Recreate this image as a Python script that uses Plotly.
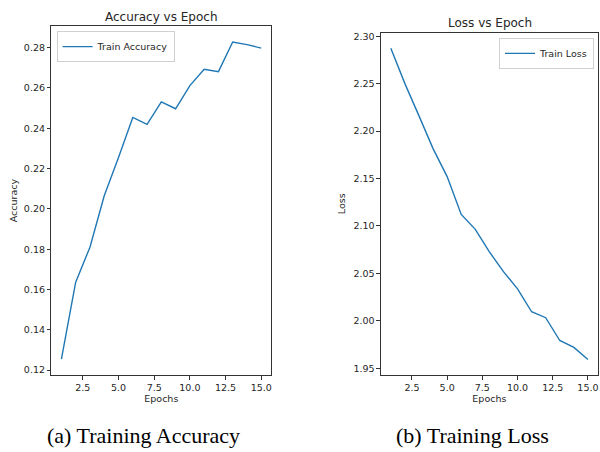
import plotly.graph_objects as go

epochs = list(range(1, 16))
train_accuracy = [0.1254, 0.1636, 0.1810, 0.2065, 0.2255, 0.2454, 0.2419, 0.2531,
                  0.2497, 0.2612, 0.2693, 0.2681, 0.2828, 0.2815, 0.2798]
train_loss = [2.2874, 2.2500, 2.2160, 2.1815, 2.1520, 2.1121, 2.0964, 2.0727,
              2.0518, 2.0337, 2.0096, 2.0033, 1.9793, 1.9720, 1.9593]

x_ticks = [2.5, 5.0, 7.5, 10.0, 12.5, 15.0]
x_tick_labels = ["2.5", "5.0", "7.5", "10.0", "12.5", "15.0"]
acc_ticks = [0.12, 0.14, 0.16, 0.18, 0.20, 0.22, 0.24, 0.26, 0.28]
loss_ticks = [1.95, 2.00, 2.05, 2.10, 2.15, 2.20, 2.25, 2.30]

W, H = 600, 452
BLUE = "#1f77b4"
FONT = "DejaVu Sans"
TXT = "#262626"


def px_x(a, b):
    return [a / W, b / W]


def px_y(top, bottom):
    return [(H - bottom) / H, (H - top) / H]


fig = go.Figure()
fig.add_trace(go.Scatter(x=epochs, y=train_accuracy, mode="lines", name="Train Accuracy",
                         line=dict(color=BLUE, width=1.4), xaxis="x", yaxis="y",
                         legend="legend"))
fig.add_trace(go.Scatter(x=epochs, y=train_loss, mode="lines", name="Train Loss",
                         line=dict(color=BLUE, width=1.4), xaxis="x2", yaxis="y2",
                         legend="legend2"))


def pad_range(vals, frac=0.05):
    lo, hi = min(vals), max(vals)
    d = (hi - lo) * frac
    return [lo - d, hi + d]


axis_common = dict(showline=True, linecolor="#333333", linewidth=1, mirror=True,
                   ticks="outside", ticklen=3.5, tickwidth=1, tickcolor="#333333",
                   showgrid=False, zeroline=False,
                   tickfont=dict(family=FONT, size=9.5, color=TXT))

fig.update_layout(
    width=W, height=H,
    margin=dict(l=0, r=0, t=0, b=0),
    paper_bgcolor="white", plot_bgcolor="white",
    font=dict(family=FONT, color=TXT),
    xaxis=dict(domain=px_x(51.5, 271.7), anchor="y", range=pad_range(epochs),
               tickvals=x_ticks, ticktext=x_tick_labels,
               title=dict(text="Epochs", font=dict(family=FONT, size=9.5, color=TXT), standoff=3),
               **axis_common),
    yaxis=dict(domain=px_y(24.3, 374.7), anchor="x", range=pad_range(train_accuracy),
               tickvals=acc_ticks, tickformat=".2f",
               title=dict(text="Accuracy", font=dict(family=FONT, size=9.5, color=TXT), standoff=4),
               **axis_common),
    xaxis2=dict(domain=px_x(381.6, 598.8), anchor="y2", range=pad_range(epochs),
                tickvals=x_ticks, ticktext=x_tick_labels,
                title=dict(text="Epochs", font=dict(family=FONT, size=9.5, color=TXT), standoff=3),
                **axis_common),
    yaxis2=dict(domain=px_y(30.7, 374.7), anchor="x2", range=pad_range(train_loss),
                tickvals=loss_ticks, tickformat=".2f",
                title=dict(text="Loss", font=dict(family=FONT, size=9.5, color=TXT), standoff=6),
                **axis_common),
    legend=dict(x=56.7 / W, y=(H - 29.3) / H, xanchor="left", yanchor="top",
                bgcolor="white", bordercolor="#d0d0d0", borderwidth=1,
                font=dict(family=FONT, size=9.5, color=TXT),
                tracegroupgap=0, itemwidth=30),
    legend2=dict(x=595 / W, y=(H - 36) / H, xanchor="right", yanchor="top",
                 bgcolor="white", bordercolor="#d0d0d0", borderwidth=1,
                 font=dict(family=FONT, size=9.5, color=TXT),
                 tracegroupgap=0, itemwidth=30),
    showlegend=True,
)

annotations = [
    dict(text="Accuracy vs Epoch", x=161.5 / W, y=(H - 15) / H, xref="paper", yref="paper",
         xanchor="center", yanchor="middle", showarrow=False,
         font=dict(family=FONT, size=12, color=TXT)),
    dict(text="Loss vs Epoch", x=490.5 / W, y=(H - 20.7) / H, xref="paper", yref="paper",
         xanchor="center", yanchor="middle", showarrow=False,
         font=dict(family=FONT, size=12, color=TXT)),
    dict(text="(a) Training Accuracy", x=143.7 / W, y=(H - 435) / H, xref="paper", yref="paper",
         xanchor="center", yanchor="middle", showarrow=False,
         font=dict(family="Liberation Serif", size=22, color="black")),
    dict(text="(b) Training Loss", x=473 / W, y=(H - 435) / H, xref="paper", yref="paper",
         xanchor="center", yanchor="middle", showarrow=False,
         font=dict(family="Liberation Serif", size=22, color="black")),
]
fig.update_layout(annotations=annotations)

fig.write_html("out.html", config={"displayModeBar": False},
               post_script="document.body.style.margin='0';document.body.style.overflow='hidden';")
